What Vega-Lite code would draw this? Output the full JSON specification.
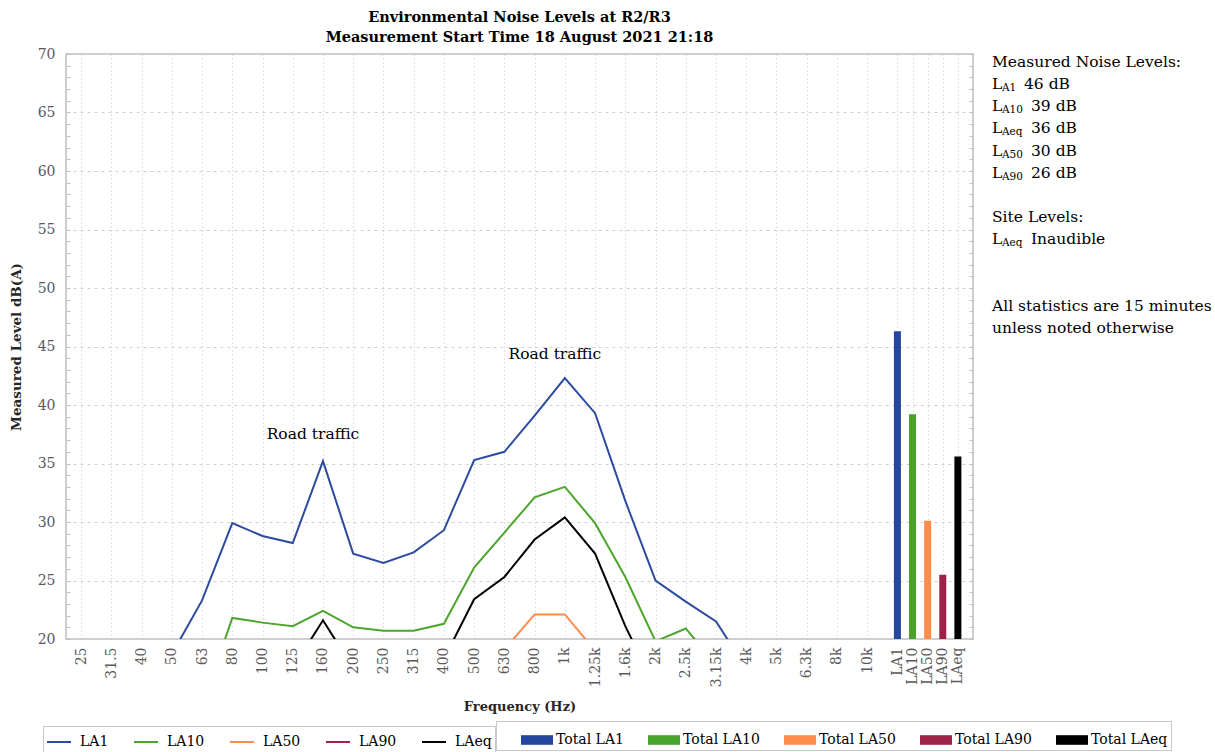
{
  "$schema": "https://vega.github.io/schema/vega-lite/v6.json",
  "background": "white",
  "padding": {"left": 8, "top": 8, "right": 0, "bottom": 0},
  "config": {"font": "DejaVu Serif", "view": {"stroke": null}},
  "datasets": {
    "bands": [
      {"band": "25", "LA1": 12.5, "LA10": 9.5, "LA50": 7.0, "LA90": 5.5, "LAeq": 8.6},
      {"band": "31.5", "LA1": 13.8, "LA10": 10.3, "LA50": 7.6, "LA90": 6.0, "LAeq": 9.4},
      {"band": "40", "LA1": 15.2, "LA10": 11.2, "LA50": 8.4, "LA90": 6.6, "LAeq": 10.3},
      {"band": "50", "LA1": 18.7, "LA10": 12.6, "LA50": 9.5, "LA90": 7.4, "LAeq": 11.5},
      {"band": "63", "LA1": 23.3, "LA10": 14.2, "LA50": 10.8, "LA90": 8.3, "LAeq": 13.0},
      {"band": "80", "LA1": 29.9, "LA10": 21.8, "LA50": 13.6, "LA90": 10.4, "LAeq": 16.4},
      {"band": "100", "LA1": 28.8, "LA10": 21.4, "LA50": 14.0, "LA90": 11.0, "LAeq": 16.8},
      {"band": "125", "LA1": 28.2, "LA10": 21.1, "LA50": 14.2, "LA90": 11.3, "LAeq": 17.5},
      {"band": "160", "LA1": 35.2, "LA10": 22.4, "LA50": 15.3, "LA90": 12.0, "LAeq": 21.6},
      {"band": "200", "LA1": 27.3, "LA10": 21.0, "LA50": 14.6, "LA90": 11.6, "LAeq": 17.5},
      {"band": "250", "LA1": 26.5, "LA10": 20.7, "LA50": 14.3, "LA90": 11.4, "LAeq": 16.9},
      {"band": "315", "LA1": 27.4, "LA10": 20.7, "LA50": 14.5, "LA90": 11.6, "LAeq": 17.2},
      {"band": "400", "LA1": 29.3, "LA10": 21.3, "LA50": 15.1, "LA90": 12.1, "LAeq": 18.3},
      {"band": "500", "LA1": 35.3, "LA10": 26.1, "LA50": 16.8, "LA90": 13.5, "LAeq": 23.4},
      {"band": "630", "LA1": 36.0, "LA10": 29.1, "LA50": 19.1, "LA90": 15.4, "LAeq": 25.3},
      {"band": "800", "LA1": 39.1, "LA10": 32.1, "LA50": 22.1, "LA90": 17.6, "LAeq": 28.5},
      {"band": "1k", "LA1": 42.3, "LA10": 33.0, "LA50": 22.1, "LA90": 17.9, "LAeq": 30.4},
      {"band": "1.25k", "LA1": 39.3, "LA10": 29.9, "LA50": 19.0, "LA90": 15.6, "LAeq": 27.3},
      {"band": "1.6k", "LA1": 31.8, "LA10": 25.3, "LA50": 16.2, "LA90": 13.2, "LAeq": 21.1},
      {"band": "2k", "LA1": 25.0, "LA10": 19.8, "LA50": 13.5, "LA90": 11.0, "LAeq": 15.8},
      {"band": "2.5k", "LA1": 23.2, "LA10": 20.9, "LA50": 12.6, "LA90": 10.2, "LAeq": 15.0},
      {"band": "3.15k", "LA1": 21.5, "LA10": 17.8, "LA50": 11.2, "LA90": 9.0, "LAeq": 13.8},
      {"band": "4k", "LA1": 17.5, "LA10": 14.6, "LA50": 9.8, "LA90": 7.9, "LAeq": 12.0},
      {"band": "5k", "LA1": 15.3, "LA10": 12.4, "LA50": 8.6, "LA90": 6.9, "LAeq": 10.6},
      {"band": "6.3k", "LA1": 13.2, "LA10": 10.5, "LA50": 7.4, "LA90": 6.0, "LAeq": 9.2},
      {"band": "8k", "LA1": 11.0, "LA10": 8.6, "LA50": 6.3, "LA90": 5.1, "LAeq": 7.7},
      {"band": "10k", "LA1": 9.0, "LA10": 7.2, "LA50": 5.4, "LA90": 4.4, "LAeq": 6.4}
    ],
    "totals": [
      {"band": "LA1", "series": "Total LA1", "level": 46.3},
      {"band": "LA10", "series": "Total LA10", "level": 39.2},
      {"band": "LA50", "series": "Total LA50", "level": 30.1},
      {"band": "LA90", "series": "Total LA90", "level": 25.5},
      {"band": "LAeq", "series": "Total LAeq", "level": 35.6}
    ],
    "notes": [
      {"band": "160", "level": 37.5, "text": "Road traffic"},
      {"band": "1k", "level": 44.4, "text": "Road traffic"}
    ],
    "side": [
      {"line": 0, "main": "Measured Noise Levels:", "sub": "", "rest": ""},
      {"line": 1, "main": "L", "sub": "A1", "rest": "46 dB"},
      {"line": 2, "main": "L", "sub": "A10", "rest": "39 dB"},
      {"line": 3, "main": "L", "sub": "Aeq", "rest": "36 dB"},
      {"line": 4, "main": "L", "sub": "A50", "rest": "30 dB"},
      {"line": 5, "main": "L", "sub": "A90", "rest": "26 dB"},
      {"line": 7, "main": "Site Levels:", "sub": "", "rest": ""},
      {"line": 8, "main": "L", "sub": "Aeq", "rest": "Inaudible"},
      {"line": 11, "main": "All statistics are 15 minutes", "sub": "", "rest": ""},
      {"line": 12, "main": "unless noted otherwise", "sub": "", "rest": ""}
    ]
  },
  "spacing": 19,
  "bounds": "flush",
  "hconcat": [
    {
      "width": 907,
      "height": 585,
      "view": {"stroke": "#bfbfbf", "strokeWidth": 1.5},
      "title": {
        "text": ["Environmental Noise Levels at R2/R3", "Measurement Start Time 18 August 2021 21:18"],
        "font": "DejaVu Serif", "fontSize": 14.5, "fontWeight": "bold", "color": "black",
        "anchor": "middle", "lineHeight": 20, "offset": 2
      },
      "encoding": {
        "x": {
          "field": "band", "type": "nominal",
          "sort": ["25","g1","31.5","g2","40","g3","50","g4","63","g5","80","g6","100","g7","125","g8","160","g9","200","g10","250","g11","315","g12","400","g13","500","g14","630","g15","800","g16","1k","g17","1.25k","g18","1.6k","g19","2k","g20","2.5k","g21","3.15k","g22","4k","g23","5k","g24","6.3k","g25","8k","g26","10k","g27","LA1","LA10","LA50","LA90","LAeq"],
          "scale": {
            "type": "point", "padding": 1,
            "domain": ["25","g1","31.5","g2","40","g3","50","g4","63","g5","80","g6","100","g7","125","g8","160","g9","200","g10","250","g11","315","g12","400","g13","500","g14","630","g15","800","g16","1k","g17","1.25k","g18","1.6k","g19","2k","g20","2.5k","g21","3.15k","g22","4k","g23","5k","g24","6.3k","g25","8k","g26","10k","g27","LA1","LA10","LA50","LA90","LAeq"]
          },
          "axis": {
            "title": "Frequency (Hz)", "titleFontWeight": "bold", "titleFontSize": 13, "titleColor": "#262626", "titlePadding": 14,
            "values": ["25","31.5","40","50","63","80","100","125","160","200","250","315","400","500","630","800","1k","1.25k","1.6k","2k","2.5k","3.15k","4k","5k","6.3k","8k","10k","LA1","LA10","LA50","LA90","LAeq"],
            "labelAngle": -90, "labelFontSize": 14, "labelColor": "#595959", "labelPadding": 8, "labelOverlap": false,
            "ticks": false, "domain": false,
            "grid": true, "gridDash": [1, 3], "gridColor": "#c4c4c4"
          }
        }
      },
      "layer": [
        {
          "data": {"name": "bands"},
          "transform": [{"fold": ["LA1", "LA10", "LA50", "LA90", "LAeq"], "as": ["series", "level"]}],
          "mark": {"type": "line", "strokeWidth": 2, "clip": true},
          "encoding": {
            "y": {
              "field": "level", "type": "quantitative",
              "scale": {"domain": [20, 70], "nice": false, "zero": false},
              "axis": {
                "orient": "left",
                "title": "Measured Level dB(A)", "titleFontWeight": "bold", "titleFontSize": 13.5, "titleColor": "#262626", "titlePadding": 14,
                "values": [20,21,22,23,24,25,26,27,28,29,30,31,32,33,34,35,36,37,38,39,40,41,42,43,44,45,46,47,48,49,50,51,52,53,54,55,56,57,58,59,60,61,62,63,64,65,66,67,68,69,70],
                "labelExpr": "datum.value % 5 === 0 ? datum.label : ''",
                "labelFontSize": 14, "labelColor": "#595959", "labelPadding": 15, "labelOverlap": false, "labelFlush": false,
                "ticks": true, "tickSize": -4, "tickColor": "#bfbfbf", "tickWidth": 1,
                "domain": false,
                "grid": true, "gridDash": [3, 4], "gridColor": "#d0d0d0",
                "gridOpacity": {"condition": {"test": "datum.value % 5 === 0", "value": 1}, "value": 0}
              }
            },
            "color": {
              "field": "series", "type": "nominal",
              "scale": {
                "domain": ["LA1","LA10","LA50","LA90","LAeq"],
                "range": ["#2c4ba0","#4ca52d","#fd8b4c","#a0234b","#000000"]
              },
              "legend": {
                "title": null, "orient": "none", "legendX": -23, "legendY": 672,
                "direction": "horizontal", "columns": 5,
                "labelFontSize": 14, "labelColor": "black", "labelFont": "DejaVu Serif",
                "symbolType": "stroke", "symbolStrokeWidth": 2, "symbolSize": 576,
                "columnPadding": 21, "labelOffset": 8, "padding": 3,
                "strokeColor": "#c8c8c8", "fillColor": "white"
              }
            }
          }
        },
        {
          "data": {"name": "totals"},
          "mark": {"type": "bar", "width": 7, "clip": true},
          "encoding": {
            "y": {
              "field": "level", "type": "quantitative",
              "axis": {
                "orient": "right", "title": null,
                "values": [20,21,22,23,24,25,26,27,28,29,30,31,32,33,34,35,36,37,38,39,40,41,42,43,44,45,46,47,48,49,50,51,52,53,54,55,56,57,58,59,60,61,62,63,64,65,66,67,68,69,70],
                "labels": false, "ticks": true, "tickSize": -4, "tickColor": "#bfbfbf", "tickWidth": 1,
                "domain": false, "grid": false
              }
            },
            "fill": {
              "field": "series", "type": "nominal",
              "scale": {
                "domain": ["Total LA1","Total LA10","Total LA50","Total LA90","Total LAeq"],
                "range": ["#23479c","#49a229","#fe8c4a","#9e2147","#000000"]
              },
              "legend": {
                "title": "\u00a0", "titleOrient": "left", "titlePadding": 22, "titleFontSize": 8,
                "orient": "none", "legendX": 430, "legendY": 667,
                "direction": "horizontal", "columns": 5,
                "labelFontSize": 14, "labelColor": "black", "labelFont": "DejaVu Serif",
                "symbolType": "M-1,-0.3H1V0.3H-1Z", "symbolSize": 1024, "symbolStrokeWidth": 0,
                "columnPadding": 24, "labelOffset": 3, "padding": 3,
                "strokeColor": "#c8c8c8", "fillColor": "white"
              }
            }
          }
        },
        {
          "data": {"name": "notes"},
          "mark": {"type": "text", "fontSize": 15.5, "dx": -10, "align": "center", "baseline": "middle", "color": "black"},
          "encoding": {
            "y": {"field": "level", "type": "quantitative", "axis": null},
            "text": {"field": "text"}
          }
        }
      ],
      "resolve": {"axis": {"y": "independent"}}
    },
    {
      "width": 215,
      "height": 282,
      "data": {"name": "side"},
      "encoding": {
        "x": {"value": 0},
        "y": {"field": "line", "type": "ordinal", "scale": {"type": "point", "domain": [0,1,2,3,4,5,6,7,8,9,10,11,12], "padding": 0.36}, "axis": null}
      },
      "layer": [
        {
          "mark": {"type": "text", "align": "left", "baseline": "middle", "fontSize": 15.5, "color": "black"},
          "encoding": {"text": {"field": "main"}}
        },
        {
          "transform": [{"filter": "datum.sub != ''"}],
          "mark": {"type": "text", "align": "left", "baseline": "middle", "fontSize": 10.5, "dx": 10, "dy": 4, "color": "black"},
          "encoding": {"text": {"field": "sub"}}
        },
        {
          "transform": [{"filter": "length(datum.sub) == 2"}],
          "mark": {"type": "text", "align": "left", "baseline": "middle", "fontSize": 15.5, "dx": 32, "color": "black"},
          "encoding": {"text": {"field": "rest"}}
        },
        {
          "transform": [{"filter": "length(datum.sub) == 3"}],
          "mark": {"type": "text", "align": "left", "baseline": "middle", "fontSize": 15.5, "dx": 39, "color": "black"},
          "encoding": {"text": {"field": "rest"}}
        }
      ]
    }
  ]
}
